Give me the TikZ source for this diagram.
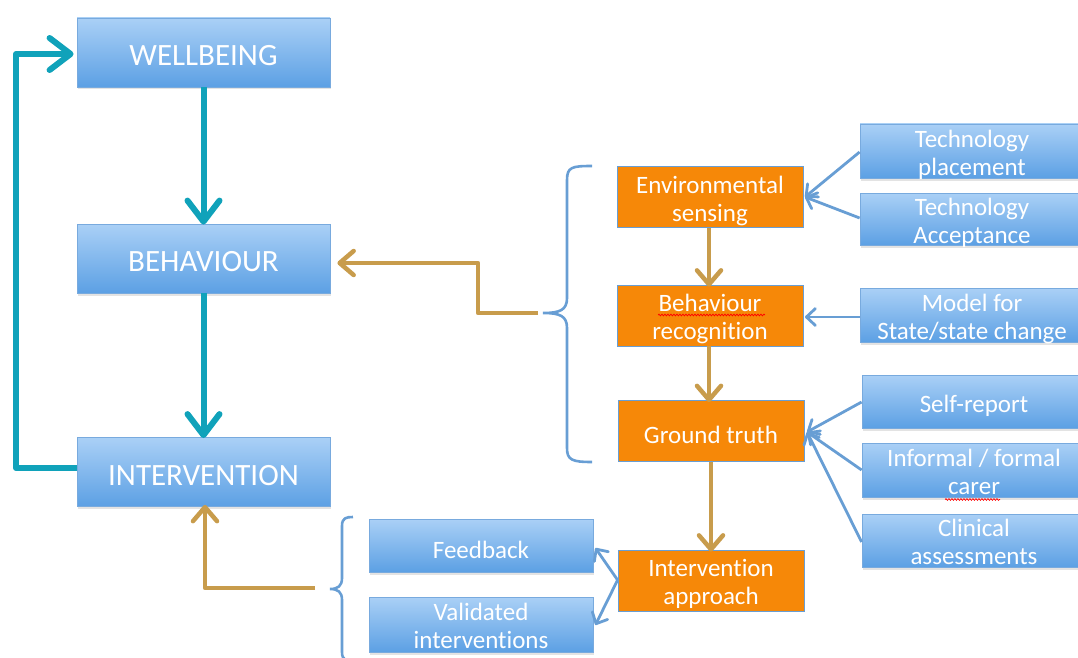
\documentclass[tikz,border=0pt]{standalone}
\usepackage{fontspec}
\setmainfont{Carlito}[Ligatures={NoCommon}]
\usetikzlibrary{arrows.meta,shadows,decorations.pathmorphing}

\definecolor{boxtop}{RGB}{170,208,246}
\definecolor{boxbot}{RGB}{92,160,228}
\definecolor{boxedge}{RGB}{120,170,222}
\definecolor{approach}{RGB}{246,136,8}
\definecolor{loopteal}{RGB}{16,162,186}
\definecolor{flowgold}{RGB}{200,156,76}
\definecolor{linkblue}{RGB}{104,158,212}

\tikzset{
  bluebox/.style={rectangle, top color=boxtop, bottom color=boxbot, draw=boxedge,
    line width=0.8pt, text=white, inner sep=0pt, align=center,
    drop shadow={opacity=0.22, shadow xshift=1pt, shadow yshift=-2.5pt}},
  mainbox/.style={bluebox, minimum width=253pt, minimum height=69pt,
    font=\fontsize{31}{36}\selectfont,
    execute at begin node={\rule{0pt}{27pt}}},
  sidebox/.style={bluebox, minimum width=224pt, minimum height=54pt,
    font=\fontsize{25}{28}\selectfont,
    execute at begin node={\rule{0pt}{26pt}}},
  orangebox/.style={rectangle, fill=approach, draw=linkblue, line width=0.8pt,
    text=white, inner sep=0pt, align=center, minimum width=186pt, minimum height=61pt,
    font=\fontsize{25}{28}\selectfont,
    execute at begin node={\rule{0pt}{26pt}}},
  twoline/.style={execute at begin node={}, text height=48pt, text depth=0pt},
  loop/.style={draw=loopteal, line width=6pt, line join=round,
    -{Straight Barb[length=21pt, width=32pt, line cap=round, line join=round]}},
  flow/.style={draw=flowgold, line width=4.5pt, line join=round,
    -{Straight Barb[length=14pt, width=24pt, line cap=round, line join=round]}},
  link/.style={draw=linkblue, line width=2.8pt,
    -{Straight Barb[length=9pt, width=17pt, line cap=round, line join=round]}},
  brace/.style={draw=linkblue, line width=2.6pt},
  squiggle/.style={draw=red, line width=0.7pt,
    decorate, decoration={snake, amplitude=0.9pt, segment length=3pt}}
}

\begin{document}
\begin{tikzpicture}[x=1pt, y=-1pt]
\useasboundingbox (0,0) rectangle (1078,658);

% left column
\node[mainbox] (wb)   at (203.5,52.5) {WELLBEING};
\node[mainbox] (beh)  at (203.5,258.5) {BEHAVIOUR};
\node[mainbox] (intv) at (203.5,472) {INTERVENTION};

% middle column
\node[orangebox, twoline] (env)  at (710,197)   {Environmental\\sensing};
\node[orangebox, twoline] (brec) at (710,315.5) {Behaviour\\recognition};
\node[orangebox] (gt)   at (711,431)   {Ground truth};
\node[orangebox, twoline] (iapp) at (711,580.5) {Intervention\\approach};

% right column
\node[sidebox, twoline] (tplace)  at (972,151)   {Technology\\placement};
\node[sidebox, twoline, minimum height=52pt] (taccept) at (972,219) {Technology\\Acceptance};
\node[sidebox, twoline] (model)   at (972,315)   {Model for\\State/state change};
\node[sidebox, minimum height=53pt] (selfrep) at (974,401.5) {Self-report};
\node[sidebox, twoline] (carer)   at (974,470)   {Informal / formal\\carer};
\node[sidebox, twoline, minimum height=53pt] (clin) at (974,540.5) {Clinical\\assessments};

% bottom column
\node[sidebox, minimum height=53pt] (feed)  at (481,545.5) {Feedback};
\node[sidebox, twoline, minimum height=55pt] (valid) at (481,624.5) {Validated\\interventions};

% spell-check marks
\draw[squiggle] (658,315) -- (765,315);
\draw[squiggle] (945,499.5) -- (1000,499.5);

% main loop
\draw[loop] (wb.south) -- ([yshift=-1pt]beh.north);
\draw[loop] (beh.south) -- ([yshift=-1pt]intv.north);
\coordinate (loopL) at (16,468);
\draw[loop] (intv.west |- loopL) -- (loopL) |- ([xshift=-3pt]wb.west |- 0,54);

% sensing chain
\draw[flow] (env.south -| 709,0) -- ([yshift=-2pt]brec.north -| 709,0);
\draw[flow] (brec.south -| 709,0) -- ([yshift=-2pt]gt.north -| 709,0);
\draw[flow] (gt.south -| 711,0) -- ([yshift=-2pt]iapp.north -| 711,0);

% upper brace and its link to BEHAVIOUR
\coordinate (ubTip) at (543,313);
\draw[brace] (592,166) .. controls (572,166) and (567,167) .. (567,180)
  -- (567,298) .. controls (567,310) and (560,313) .. (ubTip)
  .. controls (560,313) and (567,316) .. (567,328)
  -- (567,448) .. controls (567,460) and (572,462) .. (592,462);
\coordinate (ubEnd) at (538,313);
\coordinate (ubBend) at (478,313);
\draw[flow] (ubEnd) -- (ubBend) |- ([xshift=7pt]beh.east |- 0,263);

% lower brace and its link to INTERVENTION
\coordinate (lbTip) at (330,589);
\draw[brace] (353,517) .. controls (346,517) and (342,518) .. (342,526)
  -- (342,578) .. controls (342,586) and (338,589) .. (lbTip)
  .. controls (338,589) and (342,592) .. (342,600)
  -- (342,652) .. controls (342,660) and (346,661) .. (353,661);
\coordinate (lbEnd) at (315,588);
\draw[flow] (lbEnd) -| ([yshift=2pt]intv.south -| 205,0);

% supporting links
\coordinate (envIn) at (805,197);
\draw[link] (tplace.west |- 0,152) -- (envIn);
\draw[link] (taccept.west |- 0,218) -- (envIn);
\draw[link] (model.west |- 0,317) -- (805,317);
\coordinate (gtIn) at (807,432);
\draw[link] (selfrep.west |- 0,402) -- (gtIn);
\draw[link] (carer.west |- 0,470) -- (gtIn);
\draw[link] (clin.west |- 0,542) -- (gtIn);
\coordinate (iaOut) at (iapp.west |- 0,580);
\draw[link] (iaOut) -- ([xshift=2pt]feed.east |- 0,548);
\draw[link] (iaOut) -- ([xshift=2pt]valid.east |- 0,625);
\end{tikzpicture}
\end{document}
